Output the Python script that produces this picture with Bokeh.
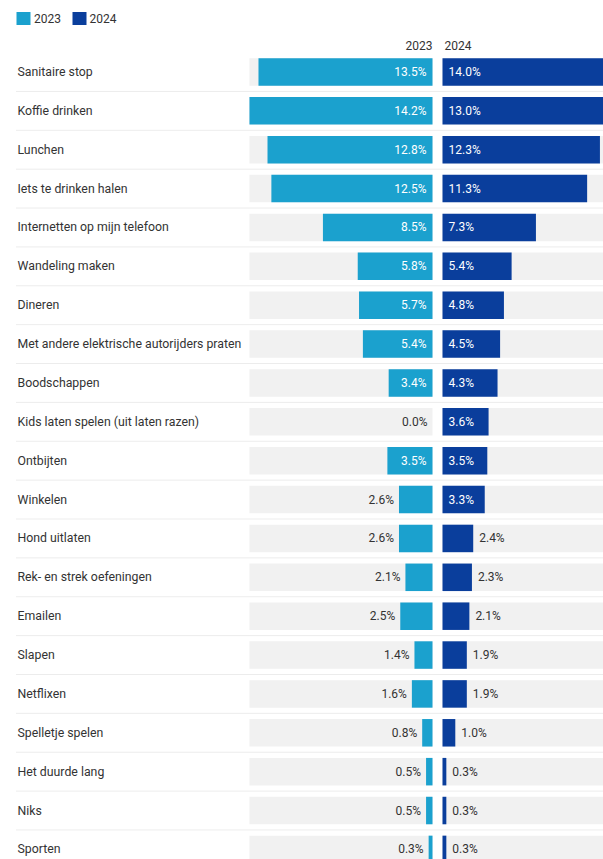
from bokeh.plotting import figure
from bokeh.models import Range1d
from bokeh.core.properties import value
from bokeh.embed import file_html
from bokeh.resources import INLINE

categories = [
    "Sanitaire stop", "Koffie drinken", "Lunchen", "Iets te drinken halen",
    "Internetten op mijn telefoon", "Wandeling maken", "Dineren",
    "Met andere elektrische autorijders praten", "Boodschappen",
    "Kids laten spelen (uit laten razen)", "Ontbijten", "Winkelen",
    "Hond uitlaten", "Rek- en strek oefeningen", "Emailen", "Slapen",
    "Netflixen", "Spelletje spelen", "Het duurde lang", "Niks", "Sporten",
]
values_2023 = [13.5, 14.2, 12.8, 12.5, 8.5, 5.8, 5.7, 5.4, 3.4, 0.0, 3.5,
               2.6, 2.6, 2.1, 2.5, 1.4, 1.6, 0.8, 0.5, 0.5, 0.3]
values_2024 = [14.0, 13.0, 12.3, 11.3, 7.3, 5.4, 4.8, 4.5, 4.3, 3.6, 3.5,
               3.3, 2.4, 2.3, 2.1, 1.9, 1.9, 1.0, 0.3, 0.3, 0.3]
series = ["2023", "2024"]
colors = ["#1ba1ce", "#0a3e9c"]

FONT = value("Roboto")
TXT = "#333333"
PX23 = 12.89        # pixels per percent, 2023 panel
PX24 = 12.8         # pixels per percent, 2024 panel
MAXV = 14.2
W, H = 603, 859
n = len(categories)
PITCH = 38.87
ROW0 = 71.5         # center of first row from frame top (px)

x0 = -432 / PX23
x1 = (603 - 432) / PX23
y_top = -ROW0 / PITCH
y_bot = (H - ROW0) / PITCH

p = figure(width=W, height=H, output_backend="svg", toolbar_location=None,
           x_range=Range1d(x0, x1), y_range=Range1d(y_bot, y_top),
           min_border=0, outline_line_color=None)
p.extra_x_ranges = {"x24": Range1d(-442 / PX24, (603 - 442) / PX24)}
p.axis.visible = False
p.grid.visible = False
p.background_fill_color = "white"
p.border_fill_color = "white"

rows = list(range(n))
BH = 27.5 / PITCH
L23 = [-v for v in values_2023]
tops = [r - BH / 2 for r in rows]
bots = [r + BH / 2 for r in rows]

# grey backgrounds
p.quad(left=[-MAXV] * n, right=[0] * n, top=tops, bottom=bots,
       fill_color="#f1f1f1", line_color=None)
p.quad(left=[0] * n, right=[MAXV + 1] * n, top=tops, bottom=bots,
       fill_color="#f1f1f1", line_color=None, x_range_name="x24")

# bars
p.quad(left=L23, right=[0] * n, top=tops, bottom=bots,
       fill_color=colors[0], line_color=None)
p.quad(left=[0] * n, right=values_2024, top=tops, bottom=bots,
       fill_color=colors[1], line_color=None, x_range_name="x24")

# separators
for r in rows[:-1]:
    p.line([x0 + 16 / PX23, x1], [r + 0.5, r + 0.5], line_color="#d9d9d9",
           line_width=1, line_dash="1 1")

# category labels
p.text(x=[x0] * n, y=rows, text=categories, x_offset=17, text_font=FONT,
       text_font_size="12.3px", text_color=TXT, text_baseline="middle",
       text_align="left")

# value labels
THR = 3.0
in23 = [i for i in rows if values_2023[i] >= THR]
out23 = [i for i in rows if values_2023[i] < THR]
p.text(x=[0] * len(in23), y=in23, x_offset=-6,
       text=[f"{values_2023[i]:.1f}%" for i in in23], text_font=FONT,
       text_font_size="12px", text_color="white", text_baseline="middle",
       text_align="right")
p.text(x=[-values_2023[i] for i in out23], y=out23, x_offset=-5,
       text=[f"{values_2023[i]:.1f}%" for i in out23], text_font=FONT,
       text_font_size="12px", text_color=TXT, text_baseline="middle",
       text_align="right")

in24 = [i for i in rows if values_2024[i] >= THR]
out24 = [i for i in rows if values_2024[i] < THR]
p.text(x=[0] * len(in24), y=in24, x_offset=6,
       text=[f"{values_2024[i]:.1f}%" for i in in24], text_font=FONT,
       text_font_size="12px", text_color="white", text_baseline="middle",
       text_align="left", x_range_name="x24")
p.text(x=[values_2024[i] for i in out24], y=out24, x_offset=6,
       text=[f"{values_2024[i]:.1f}%" for i in out24], text_font=FONT,
       text_font_size="12px", text_color=TXT, text_baseline="middle",
       text_align="left", x_range_name="x24")

# column headers
hy = (45 - ROW0) / PITCH
p.text(x=[0], y=[hy], text=[series[0]], text_font=FONT, text_font_size="12px",
       text_color=TXT, text_baseline="middle", text_align="right")
p.text(x=[0], y=[hy], text=[series[1]], x_offset=2, text_font=FONT,
       text_font_size="12px", text_color=TXT, text_baseline="middle",
       text_align="left", x_range_name="x24")

# legend
ly = (18 - ROW0) / PITCH
p.rect(x=[x0 + 23 / PX23, x0 + 79 / PX23], y=[ly, ly], width=14, height=13,
       width_units="screen", height_units="screen", fill_color=colors,
       line_color=None)
p.text(x=[x0 + 33.5 / PX23, x0 + 89 / PX23], y=[ly, ly], text=series,
       text_font=FONT, text_font_size="12px", text_color=TXT,
       text_baseline="middle", text_align="left")

open("out.html", "w").write(file_html(p, INLINE))
